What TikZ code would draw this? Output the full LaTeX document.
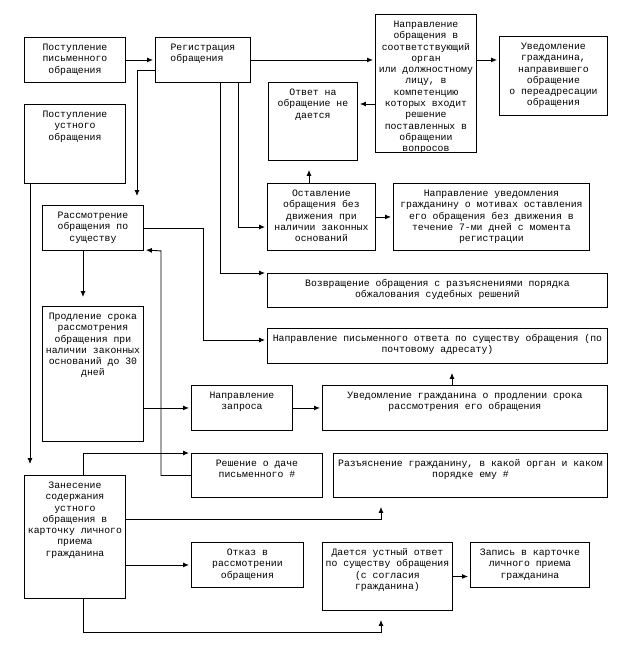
\documentclass[tikz,border=0pt]{standalone}
\usepackage{fontspec}
\setmainfont{Liberation Mono}
\usetikzlibrary{arrows.meta}
\newcommand\bxt[3]{\parbox[c][#2pt][t]{#1pt}{\centering\rule{0pt}{13pt}#3\par}}
\begin{document}
\begin{tikzpicture}[x=1pt,y=-1pt,
  bx/.style={draw, line width=0.9pt, inner sep=0pt, anchor=north west, font=\fontsize{9.8}{11.3}\selectfont},
  arr/.style={line width=0.9pt, -{Latex[length=6pt,width=5pt]}, shorten >=2pt},
  varr/.style={arr, shorten >=9pt}]
\useasboundingbox (0,0) rectangle (628,654);

\node[bx] (b1) at (24,37) {\bxt{101}{45}{Поступление\\письменного\\обращения}};
\node[bx] (b2) at (155,37) {\bxt{95}{45}{Регистрация\hspace*{12pt}\\обращения\hspace*{12pt}}};
\node[bx] (b3) at (24,104) {\bxt{101}{79}{Поступление\\устного\\обращения}};
\node[bx] (b4) at (268,82) {\bxt{89}{78}{Ответ на\\обращение не\\дается}};
\node[bx] (b5) at (375,14) {\bxt{101}{138}{Направление\\обращения в\\соответствующий\\орган\\или должностному\\лицу, в\\компетенцию\\которых входит\\решение\\поставленных в\\обращении\\вопросов}};
\node[bx] (b6) at (499,36) {\bxt{108}{79}{Уведомление\\гражданина,\\направившего\\обращение\\о переадресации\\обращения}};
\node[bx] (b7) at (42,205) {\bxt{101}{45}{Рассмотрение\\обращения по\\существу}};
\node[bx] (b8) at (267,183) {\bxt{108}{67}{Оставление\\обращения без\\движения при\\наличии законных\\оснований}};
\node[bx] (b9) at (393,183) {\bxt{196}{67}{Направление уведомления\\гражданину о мотивах оставления\\его обращения без движения в\\течение 7-ми дней с момента\\регистрации}};
\node[bx] (b10) at (267,273) {\bxt{340}{34}{Возвращение обращения с разъяснениями порядка\\обжалования судебных решений}};
\node[bx] (b11) at (267,328) {\bxt{340}{35}{Направление письменного ответа по существу обращения (по\\почтовому адресату)}};
\node[bx] (b12) at (42,306) {\bxt{101}{135}{Продление срока\\рассмотрения\\обращения при\\наличии законных\\оснований до 30\\дней}};
\node[bx] (b13) at (191,385) {\bxt{101}{45}{Направление\\запроса}};
\node[bx] (b14) at (322,385) {\bxt{285}{45}{Уведомление гражданина о продлении срока\\рассмотрения его обращения}};
\node[bx] (b15) at (191,453) {\bxt{131}{44}{Решение о даче\\письменного \#}};
\node[bx] (b16) at (333,453) {\bxt{274}{44}{Разъяснение гражданину, в какой орган и каком\\порядке ему \#}};
\node[bx] (b17) at (24,475) {\bxt{101}{123}{Занесение\\содержания\\устного\\обращения в\\карточку личного\\приема\\гражданина}};
\node[bx] (b18) at (191,542) {\bxt{112}{45}{Отказ в\\рассмотрении\\обращения}};
\node[bx] (b19) at (322,542) {\bxt{130}{68}{Дается устный ответ\\по существу обращения\\(с согласия\\гражданина)}};
\node[bx] (b20) at (470,542) {\bxt{119}{45}{Запись в карточке\\личного приема\\гражданина}};

% connectors
\draw[arr] (b1.east) -- (b1.east -| b2.west);
\draw[arr] (b2.east) -- (b2.east -| b5.west);
\draw[arr] (b5.east |- b2.east) -- (b6.west |- b2.east);
\draw[arr] (b5.west |- 0,104) -- (b4.east |- 0,104);
\draw[varr] (b2.west |- 0,70) -| (b7.north -| 137,0);
\draw[arr] (b2.south -| 238,0) |- (b8.west |- 0,227);
\draw[arr] (b2.south -| 220,0) |- (b10.north west);
\draw[varr] (b8.north -| 309,0) -- (b4.south -| 309,0);
\draw[arr] (b8.east) -- (b8.east -| b9.west);
\draw[arr] (b7.east) -- (b7.east -| 203,0) |- (b11.west |- 0,340);
\draw[varr] (b7.south -| 83,0) -- (b12.north -| 83,0);
\draw[arr] (b15.west) -| (b7.south east -| 161,0) -- ([yshift=1pt]b7.south east);
\draw[arr] (b12.east |- b13.west) -- (b13.west);
\draw[arr] (b13.east) -- (b14.west);
\draw[varr] (b14.north -| 452,0) -- (b11.south -| 452,0);
\draw[varr, shorten >=11pt] (b3.south -| 30,0) -- (b17.north -| 30,0);
\draw[arr] (b17.north -| 83,0) |- (b15.north west);
\draw[varr] (b17.east |- 0,519) -| (b16.south -| 381,0);
\draw[arr] (b17.east |- b18.west) -- (b18.west);
\draw[varr] (b17.south -| 83,0) -- (83,632) -| (b19.south -| 381,0);
\draw[arr] (b19.east) -- (b19.east -| b20.west);
\end{tikzpicture}
\end{document}
